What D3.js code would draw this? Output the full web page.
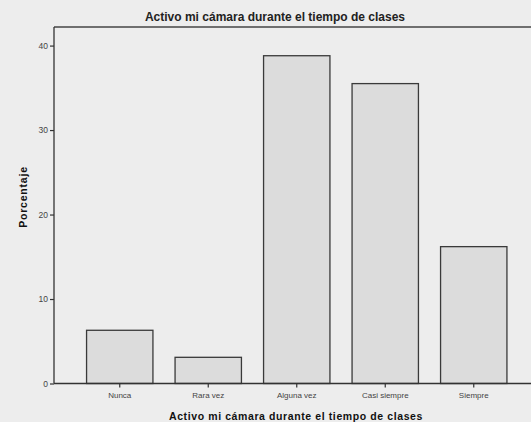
<!DOCTYPE html>
<html>
<head>
<meta charset="utf-8">
<script src="https://cdn.jsdelivr.net/npm/d3@7"></script>
<style>
  body { margin: 0; background: #ededed; }
  svg { display: block; font-family: "Liberation Sans", Arial, sans-serif; }
</style>
</head>
<body>
<div id="chart"></div>
<script>
// Data
const categories = ["Nunca", "Rara vez", "Alguna vez", "Casi siempre", "Siempre"];
const percentages = [6.3, 3.1, 38.8, 35.5, 16.2];
const yTicks = [0, 10, 20, 30, 40];

const width = 531,
  height = 422;
const plot = { left: 54, top: 27, bottom: 383.5, right: 531 };

const svg = d3
  .select("#chart")
  .append("svg")
  .attr("width", width)
  .attr("height", height);

svg.append("rect").attr("width", width).attr("height", height).attr("fill", "#ededed");

// Scales
const x = d3
  .scaleBand()
  .domain(categories)
  .range([75.5, 518])
  .paddingInner(0.25)
  .paddingOuter(0.125);

const y = d3.scaleLinear().domain([0, 42.2]).range([plot.bottom, plot.top]);

// Bars
svg
  .selectAll(".bar")
  .data(categories)
  .enter()
  .append("rect")
  .attr("class", "bar")
  .attr("x", (d) => x(d))
  .attr("width", x.bandwidth())
  .attr("y", (d, i) => y(percentages[i]))
  .attr("height", (d, i) => plot.bottom - y(percentages[i]))
  .attr("fill", "#dcdcdc")
  .attr("stroke", "#3a3a3a")
  .attr("stroke-width", 1.3);

// Top frame line
svg
  .append("line")
  .attr("x1", plot.left)
  .attr("x2", plot.right)
  .attr("y1", plot.top)
  .attr("y2", plot.top)
  .attr("stroke", "#444")
  .attr("stroke-width", 1.3);

// Y axis
const yAxis = svg
  .append("g")
  .attr("transform", "translate(" + plot.left + ",0)")
  .call(d3.axisLeft(y).tickValues(yTicks).tickSize(4).tickPadding(2).tickFormat(d3.format("d")));
yAxis.select(".domain").attr("stroke", "#333").attr("stroke-width", 1.3).attr("d", "M0," + plot.top + "V" + plot.bottom);
yAxis.selectAll(".tick line").attr("stroke", "#333").attr("stroke-width", 1.2);
yAxis.selectAll("text").attr("fill", "#444").attr("font-size", 8.5);

// X axis
const xAxis = svg
  .append("g")
  .attr("transform", "translate(0," + plot.bottom + ")")
  .call(d3.axisBottom(x).tickSize(4).tickPadding(5));
xAxis.select(".domain").attr("stroke", "#333").attr("stroke-width", 1.3).attr("d", "M" + plot.left + ",0H" + plot.right);
xAxis.selectAll(".tick line").attr("stroke", "#333").attr("stroke-width", 1.2);
xAxis.selectAll("text").attr("fill", "#444").attr("font-size", 8);

// Title
svg
  .append("text")
  .attr("x", 275)
  .attr("y", 21)
  .attr("text-anchor", "middle")
  .attr("font-size", 12)
  .attr("font-weight", "bold")
  .attr("fill", "#222")
  .text("Activo mi cámara durante el tiempo de clases");

// X axis title
svg
  .append("text")
  .attr("x", 296)
  .attr("y", 420)
  .attr("text-anchor", "middle")
  .attr("font-size", 10.5)
  .attr("font-weight", "bold")
  .attr("letter-spacing", 0.6)
  .attr("fill", "#111")
  .text("Activo mi cámara durante el tiempo de clases");

// Y axis title
svg
  .append("text")
  .attr("transform", "translate(27,197) rotate(-90)")
  .attr("text-anchor", "middle")
  .attr("font-size", 10.5)
  .attr("font-weight", "bold")
  .attr("letter-spacing", 0.8)
  .attr("fill", "#111")
  .text("Porcentaje");
</script>
</body>
</html>
